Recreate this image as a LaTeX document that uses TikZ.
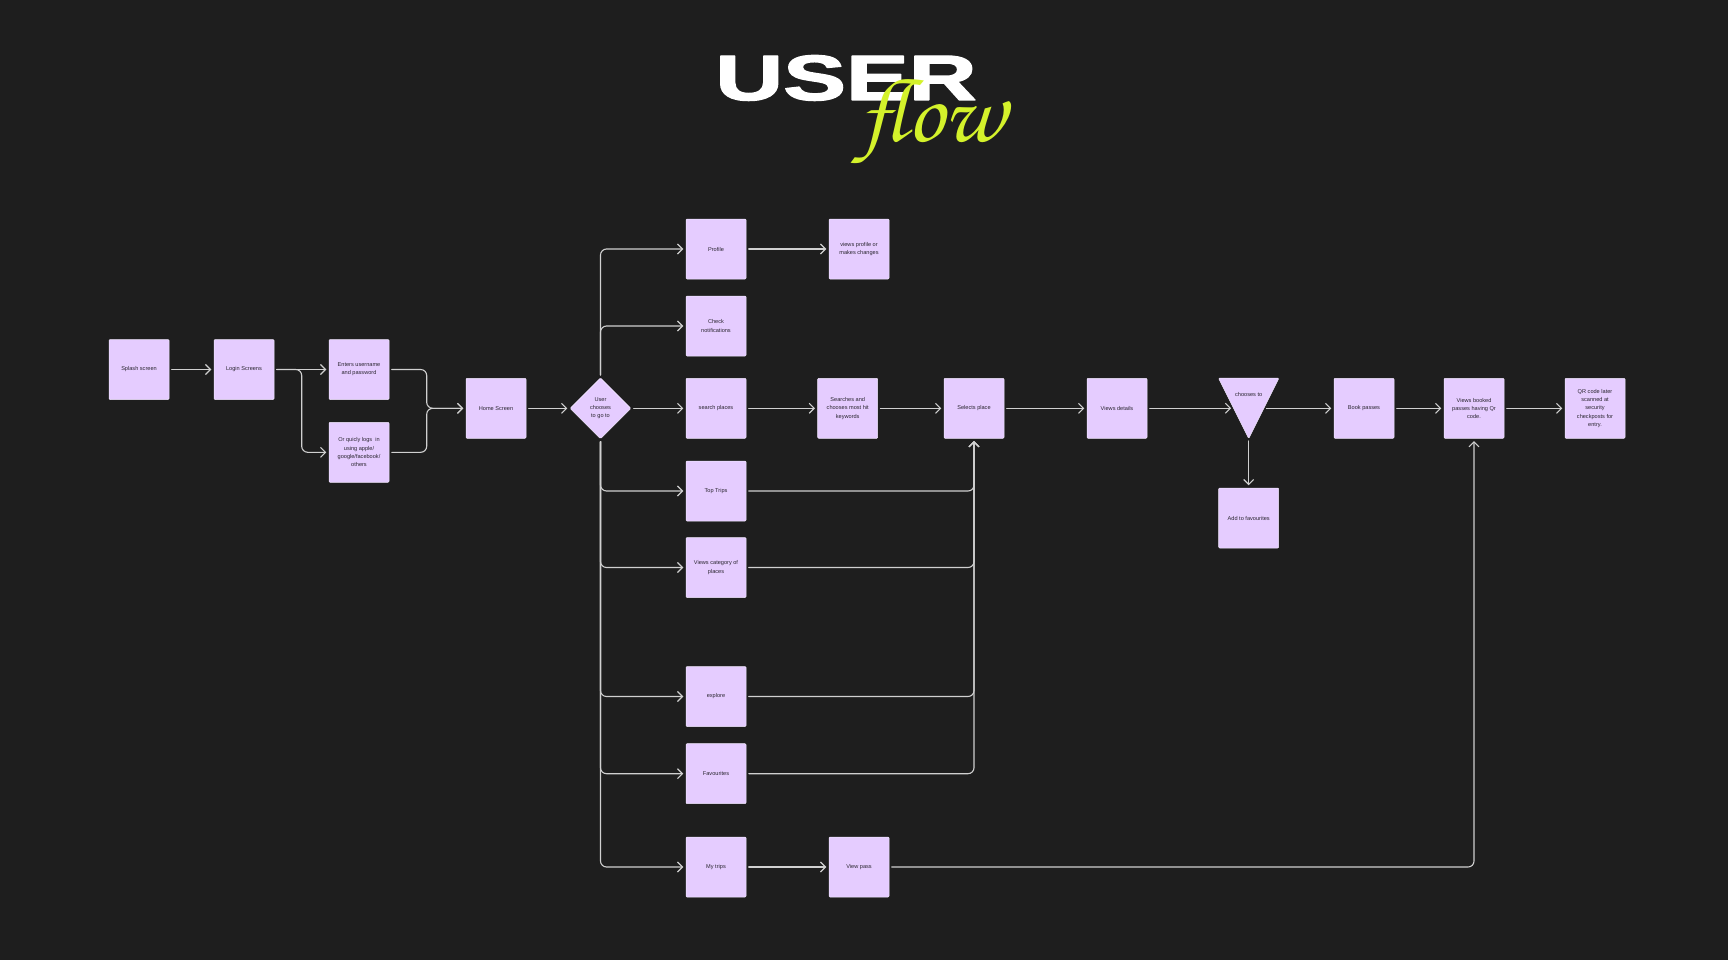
\documentclass[tikz,border=0pt]{standalone}
\usepackage[T1]{fontenc}
\usepackage{fontspec}
\usepackage{graphicx}
\setmainfont{Liberation Sans}
\newfontfamily\titlefont{Liberation Sans}[BoldFeatures={FakeBold=2}]
\newcommand\flowscript{\fontencoding{T1}\fontfamily{pzc}\fontseries{mb}\fontshape{it}\selectfont}
\usetikzlibrary{arrows.meta,calc,shapes.geometric}
\definecolor{ufBack}{HTML}{1E1E1E}
\definecolor{ufCard}{HTML}{E5CCFF}
\definecolor{ufEdge}{HTML}{F3E9FF}
\definecolor{ufInk}{HTML}{2A2630}
\definecolor{ufLine}{HTML}{D0D0D0}
\definecolor{ufLime}{HTML}{D4F22B}
\tikzset{
 uflow/.style={x=1pt,y=-1pt,line cap=round,line join=round},
 screen/.style={rectangle,draw=ufEdge,fill=ufCard,line width=.5pt,rounded corners=1pt,minimum size=60pt,
   inner sep=0pt,align=center,text=ufInk,font=\fontsize{5.6}{8.3}\selectfont},
 pick/.style={screen,diamond,minimum size=61pt},
 hub/.style={rectangle,inner sep=0pt,minimum size=60pt},
 tri/.style={draw=ufEdge,fill=ufCard,line width=.5pt,rounded corners=1pt},
 cardtext/.style={inner sep=0pt,text=ufInk,font=\fontsize{5.6}{8.3}\selectfont},
 flow/.style={draw=ufLine,line width=1.1pt,rounded corners=6pt,shorten <=2.5pt,shorten >=2.5pt,
   -{Straight Barb[length=5pt,width=10pt]}},
 wordmark/.style={text=white,inner sep=0pt,font=\titlefont\bfseries\fontsize{64}{64}\selectfont},
 script/.style={text=ufLime,inner sep=0pt,font=\flowscript\fontsize{90}{90}\selectfont}
}
\begin{document}
\begin{tikzpicture}[uflow]
 \fill[ufBack] (0,0) rectangle (1728,960);
 \node[wordmark,anchor=base] (word) at (846,100) {\scalebox{1.47}[1]{USER}};
 \node[script,anchor=base west] (flowword) at (860,142) {flow};
 \node[screen] (splash) at (139,369.5) {Splash screen};
 \node[screen] (login) at (244,369.5) {Login Screens};
 \node[screen] (enters) at (359,369.5) {Enters username\\and password};
 \node[screen] (orquick) at (359,452.3) {Or quicly logs\ \ in\\using apple/\\google/facebook/\\others};
 \node[screen] (home) at (496,408.3) {Home Screen};
 \node[pick] (pick) at (600.5,408.3) {User\\chooses\\to go to};
 \foreach \n/\y/\t in {profile/249/Profile,notif/326/{Check\\notifications},search/408.3/search places,
   top/491/Top Trips,category/567.5/{Views category of\\places},explore/696.5/explore,fav/773.7/Favourites,mytrips/867/My trips}
   {\node[screen] (\n) at (716,\y) {\t};}
 \node[screen] (views) at (859,249) {views profile or\\makes changes};
 \node[screen] (viewpass) at (859,867) {View pass};
 \node[screen] (searches) at (847.7,408.3) {Searches and\\chooses most hit\\keywords};
 \node[screen] (selects) at (974,408.3) {Selects place};
 \node[screen] (details) at (1117,408.3) {Views details};
 \node[hub] (choose) at (1248.7,408.3) {};
 \path[tri] (choose.north west) -- (choose.north east) -- (choose.south) -- cycle;
 \node[cardtext] (choosetext) at ($(choose.north)+(0,16.4)$) {chooses to};
 \node[screen] (addfav) at (1248.7,518) {Add to favourites};
 \node[screen] (book) at (1364,408.3) {Book passes};
 \node[screen] (booked) at (1474,408.3) {Views booked\\passes having Qr\\code.};
 \node[screen] (qr) at (1595,408.3) {QR code later\\scanned at\\security\\checkposts for\\entry.};
 \coordinate (split) at (301.7,369.5);
 \coordinate (join) at (426.7,408.3);
 \draw[flow] (splash) -- (login);
 \draw[flow] (login) -- (enters);
 \draw[flow] (login) -- (split) |- (orquick);
 \draw[flow] (enters) -| (join) -- (home);
 \draw[flow] (orquick) -| (join) -- (home);
 \draw[flow] (home) -- (pick);
 \draw[flow] (pick.north) |- (profile);
 \draw[flow] (pick.north) |- (notif);
 \draw[flow] (pick) -- (search);
 \foreach \n in {top,category,explore,fav,mytrips}{\draw[flow] (pick.south) |- (\n);}
 \draw[flow] (profile) -- (views);
 \draw[flow] (search) -- (searches);
 \draw[flow] (searches) -- (selects);
 \foreach \n in {top,category,explore,fav}{\draw[flow] (\n) -| (selects);}
 \draw[flow] (selects) -- (details);
 \draw[flow] (details) -- ($(choose.north west)!.5!(choose.south)$);
 \draw[flow] ($(choose.north east)!.5!(choose.south)$) -- (book);
 \draw[flow] (choose.south) -- (addfav);
 \draw[flow] (book) -- (booked);
 \draw[flow] (booked) -- (qr);
 \draw[flow] (mytrips) -- (viewpass);
 \draw[flow] (viewpass) -| (booked);
\end{tikzpicture}
\end{document}
